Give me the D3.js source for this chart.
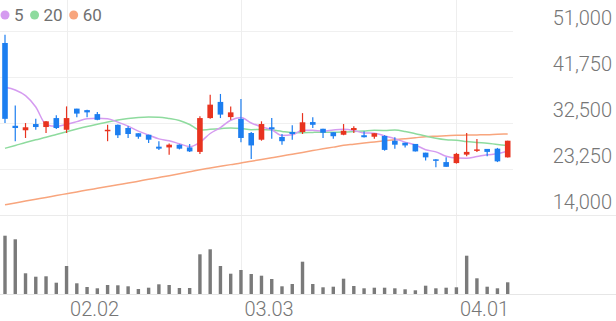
<!DOCTYPE html>
<html>
<head>
<meta charset="utf-8">
<script src="https://cdn.jsdelivr.net/npm/d3@7"></script>
<style>
  body { margin: 0; background: #fff; }
  svg { display: block; font-family: Roboto, "Noto Sans", sans-serif; }
</style>
</head>
<body>
<script>
// trading days, 2026
const dates = [
  "01.23", "01.26", "01.27", "01.28", "01.29", "01.30",
  "02.02", "02.03", "02.04", "02.05", "02.06", "02.09", "02.10", "02.11", "02.12", "02.13",
  "02.19", "02.20", "02.23", "02.24", "02.25", "02.26", "02.27",
  "03.03", "03.04", "03.05", "03.06", "03.09", "03.10", "03.11", "03.12", "03.13",
  "03.16", "03.17", "03.18", "03.19", "03.20", "03.23", "03.24", "03.25", "03.26", "03.27",
  "03.30", "03.31", "04.01", "04.02", "04.03", "04.06", "04.07", "04.08"
];

const open = [48650, 32000, 31100, 32350, 31750, 33550, 31200, 35450, 35150, 34350,
  30900, 32200, 31550, 30500, 30200, 27800, 27650, 28200, 27650, 26750,
  33550, 36800, 33750, 33400, 30550, 29200, 31700, 29750, 30750, 30750,
  32750, 31400, 30700, 30200, 31150, 30100, 29800, 29950, 29000, 28600,
  28350, 26600, 25250, 24700, 24500, 26200, 27000, 27350, 27400, 25650];
const high = [50300, 36100, 32550, 33400, 32950, 34100, 35900, 35450, 35200, 34750,
  32200, 32250, 31900, 30500, 30200, 28900, 28450, 28250, 28350, 33900,
  38250, 38400, 35900, 37400, 30750, 32900, 33550, 30350, 32100, 34550,
  33700, 31400, 30700, 32350, 31900, 30900, 30500, 30100, 29700, 28600,
  28350, 26600, 25250, 25650, 26550, 30550, 29350, 27350, 27550, 29000];
const low = [32550, 28900, 29550, 31200, 30550, 31350, 30550, 33700, 33700, 33100,
  28900, 29550, 29550, 29400, 28550, 27150, 26200, 27250, 26750, 26350,
  33400, 33550, 33200, 28700, 25300, 29000, 29400, 28200, 29200, 30350,
  31550, 29550, 29400, 30100, 30550, 29650, 29400, 27000, 27400, 27650,
  26850, 25000, 23650, 23750, 24400, 25850, 26750, 25850, 24700, 25600];
const close = [33400, 31550, 31700, 31750, 32900, 31550, 33550, 34450, 34700, 33200,
  31200, 30100, 30350, 29800, 29200, 27400, 28200, 27400, 26850, 33550,
  36250, 34250, 34700, 29550, 28050, 32350, 31300, 28900, 30350, 32700,
  32200, 30600, 29900, 31000, 31550, 29700, 30500, 27150, 28200, 28050,
  26850, 25650, 24950, 23750, 26350, 26750, 27250, 26750, 24850, 29000];

const volume = [5830000, 5470000, 2070000, 1730000, 1770000, 1130000, 2800000, 1070000, 700000, 570000,
  900000, 870000, 770000, 500000, 630000, 970000, 900000, 600000, 600000, 3970000,
  4470000, 2800000, 2030000, 2400000, 2000000, 1830000, 1500000, 770000, 1000000, 3230000,
  1000000, 670000, 730000, 1530000, 800000, 570000, 630000, 630000, 570000, 470000,
  370000, 830000, 570000, 630000, 670000, 3830000, 1570000, 730000, 570000, 1170000];

const ma5 = [39750, 39200, 38050, 35780, 32270, 31890, 32290, 32840, 33430, 33500,
  33430, 32730, 31920, 30930, 30130, 29370, 28990, 28390, 27810, 28680,
  30450, 31650, 33120, 33650, 32560, 31780, 31190, 30030, 30190, 31110,
  31080, 30950, 31150, 31280, 31050, 30550, 30520, 29970, 29410, 28710,
  28150, 27180, 26750, 25870, 25520, 25490, 25810, 26160, 26380, 26920];
const ma20 = [27470, 28040, 28640, 29180, 29680, 30250, 30810, 31350, 31860, 32320,
  32760, 33160, 33460, 33670, 33770, 33730, 33460, 33060, 32260, 31140,
  31280, 31420, 31570, 31460, 31220, 31260, 31140, 30870, 30650, 30620,
  30670, 30700, 30680, 30740, 30850, 30970, 31080, 31070, 31140, 30860,
  30390, 29960, 29480, 29190, 29100, 28820, 28620, 28510, 28240, 28050];
const ma60 = [16130, 16490, 16870, 17240, 17600, 17980, 18340, 18700, 19070, 19430,
  19790, 20150, 20490, 20860, 21240, 21600, 21960, 22340, 22750, 23170,
  23510, 23850, 24190, 24510, 24880, 25220, 25580, 25940, 26290, 26650,
  27010, 27370, 27710, 28070, 28300, 28540, 28760, 28980, 29200, 29400,
  29600, 29800, 29900, 29990, 30090, 30130, 30170, 30210, 30290, 30350];

const priceTicks = [14000, 23250, 32500, 41750, 51000];
const dateTicks = ["02.02", "03.03", "04.01"];

const maSeries = [
  { name: "5", values: ma5, color: "#d59bf0" },
  { name: "20", values: ma20, color: "#8edb9e" },
  { name: "60", values: ma60, color: "#f8a57d" }
];

const width = 616, height = 321;
const upColor = "#e8331f", downColor = "#1c7ef0";

const svg = d3.select("body").append("svg")
  .attr("width", width)
  .attr("height", height);

const x = d3.scalePoint().domain(dates).range([5, 507.7]);
const y = d3.scaleLinear().domain([14000, 51000]).range([215.3, 31.3]);
const yv = d3.scaleLinear().domain([0, d3.max(volume)]).range([294, 235.7]);

// grid
svg.append("g")
  .selectAll("line")
  .data(priceTicks.slice(1))
  .join("line")
  .attr("x1", 0).attr("x2", 513)
  .attr("y1", d => Math.round(y(d)) + 0.5)
  .attr("y2", d => Math.round(y(d)) + 0.5)
  .attr("stroke", "#f0f0f0");

svg.append("g")
  .selectAll("line")
  .data(dateTicks)
  .join("line")
  .attr("x1", d => Math.round(x(d)) + 0.5)
  .attr("x2", d => Math.round(x(d)) + 0.5)
  .attr("y1", 0).attr("y2", 294)
  .attr("stroke", "#eeeeee");

svg.append("line")
  .attr("x1", 0).attr("x2", width)
  .attr("y1", Math.round(y(14000)) + 0.5).attr("y2", Math.round(y(14000)) + 0.5)
  .attr("stroke", "#ebebeb");
svg.append("line")
  .attr("x1", 0).attr("x2", width)
  .attr("y1", 294.5).attr("y2", 294.5)
  .attr("stroke", "#e6e6e6");

// y axis labels
const yAxis = d3.axisRight(y)
  .tickValues(priceTicks)
  .tickFormat(d3.format(","))
  .tickSize(0);
svg.append("g")
  .attr("transform", "translate(612,-7)")
  .call(yAxis)
  .call(g => g.select(".domain").remove())
  .call(g => g.selectAll("text")
    .attr("x", 0)
    .attr("dy", 0)
    .attr("text-anchor", "end")
    .attr("fill", "#767676")
    .attr("font-size", 20)
    .attr("font-weight", 300)
    .attr("font-family", "Roboto, sans-serif"));

// x axis labels
const xAxis = d3.axisBottom(x).tickValues(dateTicks).tickSize(0);
svg.append("g")
  .attr("transform", "translate(3,316)")
  .call(xAxis)
  .call(g => g.select(".domain").remove())
  .call(g => g.selectAll("text")
    .attr("y", 0)
    .attr("dy", 0)
    .attr("text-anchor", "start")
    .attr("fill", "#767676")
    .attr("font-size", 20)
    .attr("font-weight", 300)
    .attr("font-family", "Roboto, sans-serif"));

// volume
svg.append("g")
  .selectAll("rect")
  .data(volume)
  .join("rect")
  .attr("x", (d, i) => x(dates[i]) - 1.7)
  .attr("width", 3.4)
  .attr("y", d => yv(d))
  .attr("height", d => 294 - yv(d))
  .attr("fill", "#7a7a7a");

// moving averages
const line = d3.line()
  .x((d, i) => x(dates[i]))
  .y(d => y(d))
  .curve(d3.curveMonotoneX);

svg.append("g")
  .selectAll("path")
  .data(maSeries.slice().reverse())
  .join("path")
  .attr("d", d => line(d.values))
  .attr("fill", "none")
  .attr("stroke", d => d.color)
  .attr("stroke-width", 1.5);

// candles
const candles = dates.map((d, i) => ({
  date: d, o: open[i], h: high[i], l: low[i], c: close[i]
}));
const cg = svg.append("g")
  .selectAll("g")
  .data(candles)
  .join("g")
  .attr("fill", d => d.c >= d.o ? upColor : downColor)
  .attr("stroke", d => d.c >= d.o ? upColor : downColor);

cg.append("line")
  .attr("x1", d => x(d.date)).attr("x2", d => x(d.date))
  .attr("y1", d => y(d.h)).attr("y2", d => y(d.l))
  .attr("stroke-width", 1.2);

cg.append("rect")
  .attr("x", d => x(d.date) - 2.8)
  .attr("width", 5.6)
  .attr("y", d => y(Math.max(d.o, d.c)))
  .attr("height", d => Math.max(1.5, Math.abs(y(d.o) - y(d.c))))
  .attr("stroke", "none");

// legend
const legend = svg.append("g").attr("transform", "translate(0,15)");
let lx = 5;
maSeries.forEach(s => {
  legend.append("circle").attr("cx", lx).attr("cy", 0).attr("r", 4.5).attr("fill", s.color);
  const t = legend.append("text")
    .attr("x", lx + 9)
    .attr("y", 6)
    .attr("font-size", 17)
    .attr("fill", "#707070")
    .text(s.name);
  lx += 9 + t.node().getComputedTextLength() + 11;
});
</script>
</body>
</html>
